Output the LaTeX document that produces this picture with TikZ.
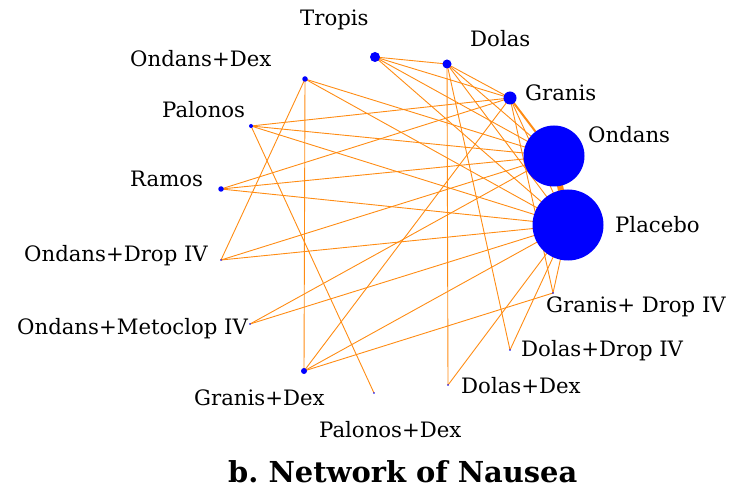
\documentclass[tikz,border=0pt]{standalone}
\usepackage{fontspec}
\setmainfont{DejaVu Serif}
\usetikzlibrary{backgrounds}
\definecolor{edgeor}{RGB}{255,140,20}
\definecolor{nodeblue}{RGB}{0,0,255}
\begin{document}
\begin{tikzpicture}[x=1bp,y=-1bp,
  trt/.style={circle,fill=nodeblue,inner sep=0pt,minimum size=#1},
  lbl/.style={anchor=base west,inner sep=0pt,font=\fontsize{21.3}{22}\selectfont,text=black},
  edge/.style={draw=edgeor,line width=0.9bp},
  ttl/.style={anchor=base west,inner sep=0pt,font=\fontsize{29}{30}\selectfont\bfseries}]
\useasboundingbox (0,0) rectangle (732,491);
% treatment nodes
\node[trt=10bp] (tro) at (375,57) {};
\node[trt=9bp] (dol) at (447,64) {};
\node[trt=13bp] (gra) at (510,98) {};
\node[trt=61bp] (ond) at (554,156) {};
\node[trt=71bp] (pla) at (568,225) {};
\node[trt=1.8bp] (gdr) at (553,293) {};
\node[trt=1.8bp] (ddr) at (510,350) {};
\node[trt=1.8bp] (dde) at (448,385) {};
\node[trt=1.8bp] (pde) at (374,393) {};
\node[trt=6bp] (gde) at (304,371) {};
\node[trt=1.8bp] (ome) at (250,324) {};
\node[trt=1.8bp] (odr) at (221,260) {};
\node[trt=5.5bp] (ram) at (221,189) {};
\node[trt=4bp] (pal) at (251,126) {};
\node[trt=5.5bp] (ode) at (305,79) {};
% connectors
\begin{scope}[on background layer]
\draw[edge] (tro.center) -- (dol.center);
\draw[edge] (tro.center) -- (gra.center);
\draw[edge] (tro.center) -- (ond.center);
\draw[edge] (tro.center) -- (pla.center);
\draw[edge] (dol.center) -- (gra.center);
\draw[edge] (dol.center) -- (ond.center);
\draw[edge] (dol.center) -- (pla.center);
\draw[edge] (dol.center) -- (dde.center);
\draw[edge] (dol.center) -- (ddr.center);
\draw[edge,line width=2bp] (gra.center) -- (ond.center);
\draw[edge] (gra.center) -- (pla.center);
\draw[edge] (gra.center) -- (pal.center);
\draw[edge] (gra.center) -- (ram.center);
\draw[edge] (gra.center) -- (gde.center);
\draw[edge] (gra.center) -- (gdr.center);
\draw[edge,line width=6bp] (ond.center) -- (pla.center);
\draw[edge] (ode.center) -- (ond.center);
\draw[edge] (ode.center) -- (pla.center);
\draw[edge] (ode.center) -- (gde.center);
\draw[edge] (ode.center) -- (odr.center);
\draw[edge] (pal.center) -- (ond.center);
\draw[edge] (pal.center) -- (pla.center);
\draw[edge] (pal.center) -- (pde.center);
\draw[edge] (ram.center) -- (ond.center);
\draw[edge] (ram.center) -- (pla.center);
\draw[edge] (odr.center) -- (ond.center);
\draw[edge] (odr.center) -- (pla.center);
\draw[edge] (ome.center) -- (ond.center);
\draw[edge] (ome.center) -- (pla.center);
\draw[edge] (gde.center) -- (pla.center);
\draw[edge] (gde.center) -- (gdr.center);
\draw[edge] (dde.center) -- (pla.center);
\draw[edge] (ddr.center) -- (pla.center);
\draw[edge] (gdr.center) -- (pla.center);
\end{scope}
% labels
\node[lbl] (ltro) at (300,26) {Tropis};
\node[lbl] (ldol) at (470,47) {Dolas};
\node[lbl] (lode) at (130,67) {Ondans+Dex};
\node[lbl] (lgra) at (525,101) {Granis};
\node[lbl] (lpal) at (162,118) {Palonos};
\node[lbl] (lond) at (588,143) {Ondans};
\node[lbl] (lram) at (130,187) {Ramos};
\node[lbl] (lpla) at (615,233) {Placebo};
\node[lbl] (lodr) at (24,262) {Ondans+Drop IV};
\node[lbl] (lgdr) at (546,312) {Granis+ Drop IV};
\node[lbl] (lome) at (17,334) {Ondans+Metoclop IV};
\node[lbl] (lddr) at (521,356) {Dolas+Drop IV};
\node[lbl] (ldde) at (461,393) {Dolas+Dex};
\node[lbl] (lgde) at (194,405) {Granis+Dex};
\node[lbl] (lpde) at (319,437) {Palonos+Dex};
\node[ttl] (title) at (228,482) {b.\ Network of Nausea};
\end{tikzpicture}
\end{document}
